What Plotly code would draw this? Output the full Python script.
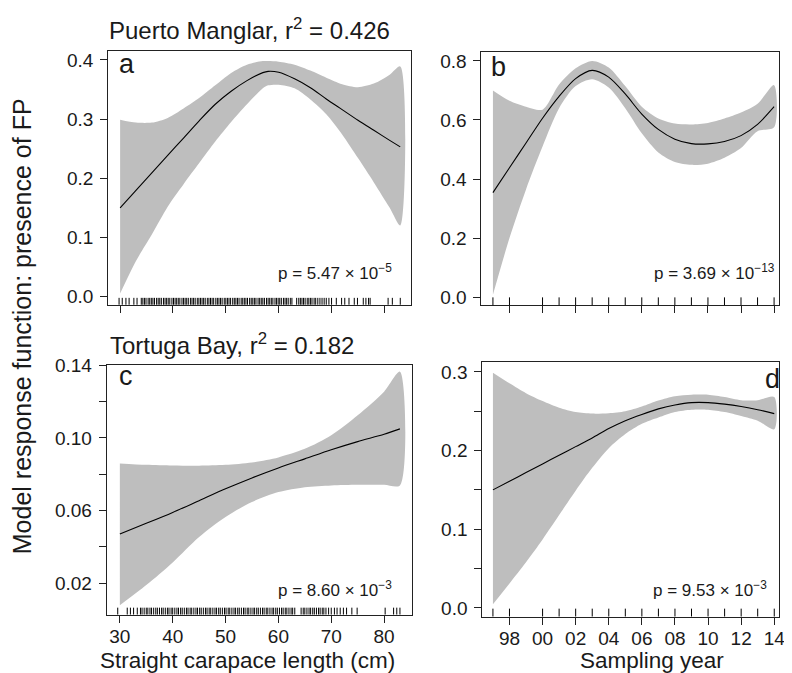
import plotly.graph_objects as go

# ---------------- data ----------------
# Panel a: Puerto Manglar, SCL
scl_a = [30, 33, 36, 39, 42, 45, 48, 51, 54, 57, 58, 60, 63, 66, 69, 72, 75, 78, 81, 83]
fit_a = [0.150, 0.1795, 0.209, 0.2385, 0.268, 0.2975, 0.325, 0.347, 0.365, 0.3785, 0.3807, 0.379,
         0.368, 0.353, 0.334, 0.316, 0.298, 0.281, 0.264, 0.253]
up_a = [0.299, 0.294, 0.294, 0.302, 0.318, 0.336, 0.357, 0.378, 0.392, 0.398, 0.398, 0.397,
        0.392, 0.382, 0.370, 0.359, 0.354, 0.360, 0.375, 0.389]
lo_a = [0.005, 0.060, 0.105, 0.152, 0.190, 0.226, 0.262, 0.295, 0.325, 0.352, 0.357, 0.358,
        0.352, 0.333, 0.308, 0.274, 0.234, 0.193, 0.150, 0.120]

# Panel b: Puerto Manglar, year
year_b = [1997, 1998, 1999, 2000, 2001, 2002, 2003, 2004, 2005, 2006, 2007, 2008, 2009,
          2010, 2011, 2012, 2013, 2014]
fit_b = [0.354, 0.438, 0.522, 0.606, 0.680, 0.740, 0.768, 0.745, 0.688, 0.620, 0.568, 0.535,
         0.520, 0.519, 0.527, 0.547, 0.585, 0.645]
up_b = [0.700, 0.665, 0.645, 0.635, 0.720, 0.775, 0.800, 0.778, 0.715, 0.645, 0.605, 0.588,
        0.585, 0.590, 0.605, 0.625, 0.655, 0.718]
lo_b = [0.008, 0.200, 0.365, 0.510, 0.640, 0.715, 0.738, 0.710, 0.640, 0.555, 0.490, 0.458,
        0.448, 0.452, 0.472, 0.505, 0.562, 0.575]

# Panel c: Tortuga Bay, SCL
scl_c = [30, 35, 40, 45, 50, 55, 60, 65, 70, 75, 80, 83]
fit_c = [0.0472, 0.053, 0.059, 0.0655, 0.072, 0.078, 0.0835, 0.0885, 0.0935, 0.098, 0.102, 0.105]
up_c = [0.086, 0.0852, 0.0848, 0.0847, 0.0852, 0.0865, 0.0893, 0.094, 0.1015, 0.1125, 0.1255, 0.1365]
lo_c = [0.0079, 0.019, 0.0315, 0.0455, 0.0565, 0.0648, 0.0702, 0.0729, 0.0739, 0.0743, 0.0742, 0.0739]

# Panel d: Tortuga Bay, year
year_d = year_b
fit_d = [0.150, 0.161, 0.172, 0.183, 0.194, 0.205, 0.216, 0.228, 0.238, 0.246, 0.253, 0.258,
         0.261, 0.261, 0.259, 0.256, 0.252, 0.247]
up_d = [0.299, 0.2855, 0.273, 0.263, 0.2545, 0.249, 0.247, 0.2475, 0.250, 0.256, 0.2636, 0.269,
        0.271, 0.271, 0.268, 0.264, 0.264, 0.268]
lo_d = [0.0045, 0.031, 0.058, 0.087, 0.118, 0.149, 0.178, 0.203, 0.221, 0.234, 0.242, 0.249,
        0.252, 0.252, 0.249, 0.244, 0.238, 0.227]

# Rug data (observed SCL values / sampling years)
rug_a = [29.8, 30.4, 31.1, 31.7, 32.6, 33.2,
         34.0, 34.3, 34.6, 34.9, 35.3, 35.6, 35.9, 36.2, 36.5, 36.9, 37.2, 37.5, 37.8, 38.2,
         38.5, 38.8, 39.1, 39.4, 39.8, 40.1, 40.4, 40.7, 41.0, 41.3, 41.7, 42.0, 42.3, 42.6,
         42.9, 43.3, 43.6, 43.9, 44.2, 44.6, 44.9, 45.2, 45.5, 45.8, 46.1, 46.5, 46.8, 47.1,
         47.4, 47.7, 48.1, 48.4, 48.7, 49.0, 49.3, 49.7, 50.0, 50.3, 50.6, 50.9, 51.3, 51.6,
         51.9, 52.2, 52.5, 52.9, 53.2, 53.5, 53.8, 54.1, 54.5, 54.8, 55.1, 55.4, 55.7, 56.1,
         56.4, 56.7, 57.0, 57.3, 57.7, 58.0, 58.3, 58.6, 58.9, 59.3, 59.6, 59.9, 60.2, 60.5,
         60.9, 61.2, 61.5, 61.8, 62.2, 62.5, 63.4, 63.8, 64.1, 64.4, 64.7, 65.0, 65.4, 65.7,
         66.0, 66.3, 66.7, 67.0, 67.4, 67.8, 68.2, 68.6, 69.0, 69.5, 70.0,
         70.9, 71.9, 72.5, 73.3, 74.3, 74.9, 76.0, 76.5, 77.0, 77.3, 80.7, 81.5, 83.0]
rug_c = [29.6, 31.4, 32.0, 32.6, 33.3, 33.9,
         34.2, 34.6, 35.0, 35.3, 35.7, 36.0, 36.4, 36.8, 37.1, 37.5, 37.9, 38.2, 38.6, 39.0,
         39.3, 39.7, 40.0, 40.4, 40.8, 41.1, 41.5, 41.8, 42.2, 42.6, 42.9, 43.3, 43.6, 44.0,
         44.4, 44.7, 45.1, 45.4, 45.8, 46.2, 46.5, 46.9, 47.2, 47.6, 48.0, 48.3, 48.7, 49.0,
         49.4, 49.8, 50.1, 50.5, 50.8, 51.2, 51.6, 51.9, 52.3, 52.6, 53.0, 53.4, 53.7, 54.1,
         54.4, 54.8, 55.2, 55.5, 55.9, 56.2, 56.6, 57.0, 57.3, 57.7, 58.0, 58.4, 58.8, 59.1,
         59.5, 59.8, 60.2, 60.6, 60.9, 61.3, 61.6, 62.0, 62.4, 62.7, 63.1, 64.3, 64.7, 65.0,
         65.4, 65.8, 66.1, 66.5, 66.8, 67.2, 67.6, 67.9, 68.3, 68.6, 69.0, 69.5, 70.0, 70.6,
         71.1, 71.7, 72.3, 72.9, 73.9, 74.9, 80.2, 81.8, 82.4, 83.0]
rug_years = [1997, 1998, 2000, 2001, 2002, 2003, 2004, 2005, 2006, 2007, 2008, 2009, 2010,
             2011, 2012, 2013, 2014]

# axis ticks / labels
scl_ticks = [30, 40, 50, 60, 70, 80]
year_ticks = [1998, 2000, 2002, 2004, 2006, 2008, 2010, 2012, 2014]
year_labels = ["98", "00", "02", "04", "06", "08", "10", "12", "14"]
ya_ticks = [0.0, 0.1, 0.2, 0.3, 0.4]
ya_labels = ["0.0", "0.1", "0.2", "0.3", "0.4"]
yb_ticks = [0.0, 0.2, 0.4, 0.6, 0.8]
yb_labels = ["0.0", "0.2", "0.4", "0.6", "0.8"]
yc_ticks = [0.02, 0.04, 0.06, 0.08, 0.10, 0.12, 0.14]
yc_labels = ["0.02", " ", "0.06", " ", "0.10", " ", "0.14"]
yd_ticks = [0.0, 0.05, 0.1, 0.15, 0.2, 0.25, 0.3]
yd_labels = ["0.0", " ", "0.1", " ", "0.2", " ", "0.3"]

titles = ["Puerto Manglar, r<sup>2</sup> = 0.426", "Tortuga Bay, r<sup>2</sup> = 0.182"]
letters = ["a", "b", "c", "d"]
pvals = ["p = 5.47 × 10<sup>−5</sup>", "p = 3.69 × 10<sup>−13</sup>",
         "p = 8.60 × 10<sup>−3</sup>", "p = 9.53 × 10<sup>−3</sup>"]

# ---------------- layout helpers ----------------
# The page body has an 8px margin, so the figure is drawn 8px smaller and
# all target pixel positions (window coordinates) are shifted by that offset.
OFF = 8
W, H = 792 - OFF, 673 - OFF
FONT = "Liberation Sans, Arial, Helvetica, sans-serif"
BAND = "#bebebe"
TXT = "#1a1a1a"


def xdom(l, r):
    return [(l - OFF) / W, (r - OFF) / W]


def ydom(t, b):
    return [1 - (b - OFF) / H, 1 - (t - OFF) / H]


fig = go.Figure()

panels = [
    (scl_a, fit_a, up_a, lo_a, "x", "y"),
    (year_b, fit_b, up_b, lo_b, "x2", "y2"),
    (scl_c, fit_c, up_c, lo_c, "x3", "y3"),
    (year_d, fit_d, up_d, lo_d, "x4", "y4"),
]
for xs, fit, up, lo, xa, ya in panels:
    fig.add_trace(go.Scatter(
        x=list(xs) + list(xs)[::-1], y=list(up) + list(lo)[::-1],
        fill="toself", fillcolor=BAND, mode="lines",
        line=dict(width=0, color=BAND, shape="spline", smoothing=0.8),
        hoverinfo="skip", showlegend=False, xaxis=xa, yaxis=ya))
    fig.add_trace(go.Scatter(
        x=xs, y=fit, mode="lines",
        line=dict(color="black", width=1.1, shape="spline", smoothing=0.8),
        showlegend=False, xaxis=xa, yaxis=ya))

shapes = []
for vals, xr, yr, h in [(rug_a, "x", "y domain", 7 / 258), (rug_years, "x2", "y2 domain", 8 / 258),
                        (rug_c, "x3", "y3 domain", 7 / 254), (rug_years, "x4", "y4 domain", 8 / 259)]:
    for v in vals:
        shapes.append(dict(type="line", xref=xr, yref=yr, x0=v, x1=v, y0=0, y1=h,
                           line=dict(color="black", width=1)))

tickfont = dict(family=FONT, size=19, color=TXT)
common_ax = dict(showline=True, mirror=True, linecolor="#222222", linewidth=1,
                 ticks="outside", ticklen=7, tickcolor="#222222", tickwidth=1,
                 showgrid=False, zeroline=False, tickfont=tickfont, fixedrange=True)

layout = dict(
    width=W, height=H, margin=dict(l=0, r=0, t=0, b=0),
    paper_bgcolor="white", plot_bgcolor="white", showlegend=False,
    font=dict(family=FONT, color=TXT),
    xaxis=dict(domain=xdom(109, 414), range=[27.75, 85.01], tickvals=scl_ticks,
               showticklabels=False, anchor="y", **common_ax),
    yaxis=dict(domain=ydom(42, 300), range=[-0.0138, 0.4144], tickvals=ya_ticks,
               ticktext=ya_labels, anchor="x", ticklabelstandoff=3, **common_ax),
    xaxis2=dict(domain=xdom(485, 785), range=[1996.30, 2014.30], tickvals=year_ticks,
                showticklabels=False, anchor="y2", **common_ax),
    yaxis2=dict(domain=ydom(42.5, 300.5), range=[-0.0273, 0.8306], tickvals=yb_ticks,
                ticktext=yb_labels, anchor="x2", ticklabelstandoff=3, **common_ax),
    xaxis3=dict(domain=xdom(107.5, 415), range=[27.52, 85.26], tickvals=scl_ticks,
                ticktext=[str(t) for t in scl_ticks], anchor="y3", ticklabelstandoff=-2, **common_ax),
    yaxis3=dict(domain=ydom(361.5, 615.5), range=[0.00281, 0.1401], tickvals=yc_ticks,
                ticktext=yc_labels, anchor="x3", ticklabelstandoff=3, **common_ax),
    xaxis4=dict(domain=xdom(486, 785), range=[1996.36, 2014.29], tickvals=year_ticks,
                ticktext=year_labels, anchor="y4", ticklabelstandoff=-2, **common_ax),
    yaxis4=dict(domain=ydom(358.5, 617.5), range=[-0.011, 0.3124], tickvals=yd_ticks,
                ticktext=yd_labels, anchor="x4", ticklabelstandoff=3, **common_ax),
    shapes=shapes,
)


def ann(text, px, py, size, xanchor="left", yanchor="middle", angle=0):
    return dict(text=text, x=(px - OFF) / W, y=1 - (py - OFF) / H, xref="paper", yref="paper",
                xanchor=xanchor, yanchor=yanchor, showarrow=False, textangle=angle,
                font=dict(family=FONT, size=size, color=TXT))


annotations = [
    ann(titles[0], 108, 19, 24),
    ann(titles[1], 109, 340, 24),
    ann(letters[0], 118, 55, 27),
    ann(letters[1], 493, 58, 27),
    ann(letters[2], 118, 373, 27),
    ann(letters[3], 788, 376, 27, xanchor="right"),
    ann(pvals[0], 397, 267, 17, xanchor="right"),
    ann(pvals[1], 783, 267, 17, xanchor="right"),
    ann(pvals[2], 397, 589, 17, xanchor="right"),
    ann(pvals[3], 775, 589, 17, xanchor="right"),
    ann("Straight carapace length (cm)", 249, 662, 22.5, xanchor="center"),
    ann("Sampling year", 657, 662, 22.5, xanchor="center"),
    ann("Model response function: presence of FP", 22, 322, 25, xanchor="center", angle=-90),
]
layout["annotations"] = annotations

fig.update_layout(**layout)
fig.write_html("out.html")
